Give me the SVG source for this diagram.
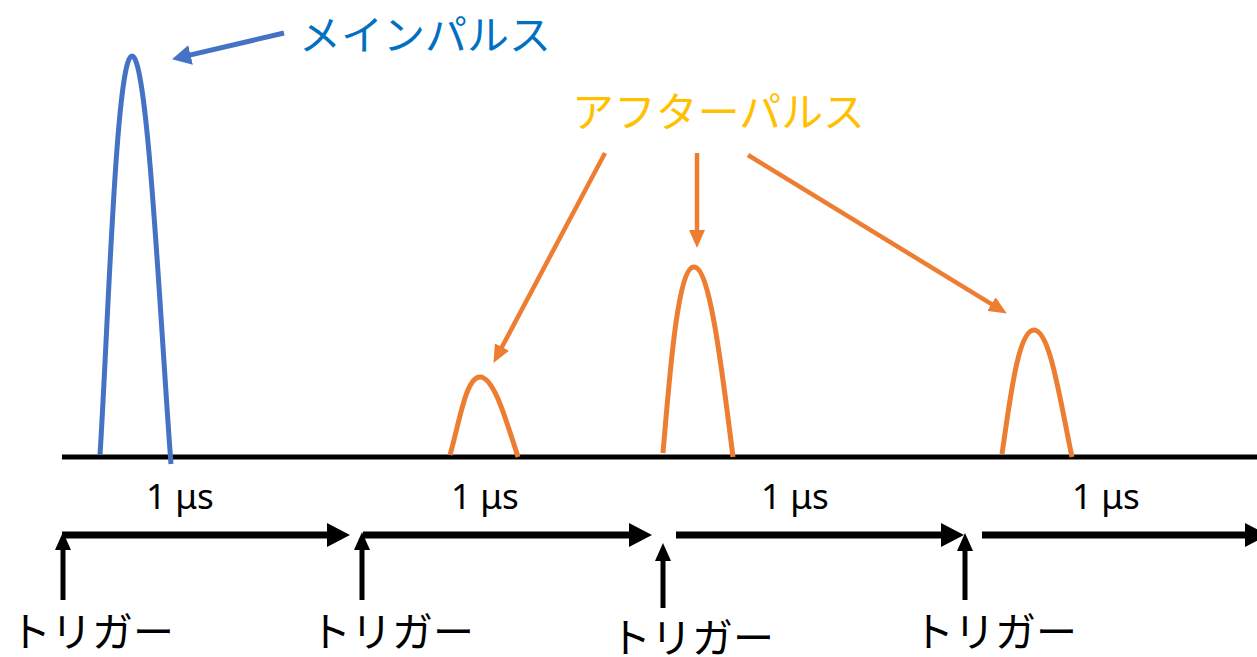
<svg xmlns="http://www.w3.org/2000/svg" width="1257" height="657" viewBox="0 0 1257 657">
<style>
.jp{font-family:"Noto Sans CJK JP","Noto Sans",sans-serif;font-size:41px}
.us{font-family:"Noto Sans","DejaVu Sans",sans-serif;font-size:35px;fill:#000;text-anchor:middle}
.pulse{fill:none;stroke-width:5;stroke-linecap:butt}
.blk{stroke:#000;fill:none}
</style>
<defs>
<marker id="mOr" markerUnits="userSpaceOnUse" markerWidth="18" markerHeight="16" viewBox="0 0 18 16" refX="2" refY="8" orient="auto"><path d="M0,0 L18,8 L0,16 z" fill="#ED7D31"/></marker>
<marker id="mBl" markerUnits="userSpaceOnUse" markerWidth="19" markerHeight="20" viewBox="0 0 19 20" refX="2" refY="10" orient="auto"><path d="M0,0 L19,10 L0,20 z" fill="#4472C4"/></marker>
<marker id="mBk" markerUnits="userSpaceOnUse" markerWidth="23" markerHeight="24" viewBox="0 0 23 24" refX="2" refY="12" orient="auto"><path d="M0,0 L23,12 L0,24 z" fill="#000"/></marker>
<marker id="mBkS" markerUnits="userSpaceOnUse" markerWidth="18" markerHeight="16" viewBox="0 0 18 16" refX="2" refY="8" orient="auto"><path d="M0,0 L18,8 L0,16 z" fill="#000"/></marker>
</defs>

<g id="baseline"><line x1="62" y1="457" x2="1257" y2="457" stroke="#000" stroke-width="5"/></g>

<g id="main-pulse"><path class="pulse" stroke="#4472C4" d="M100,455 C108,330 116,56 132,56 C148,56 160,320 171,464"/></g>
<g id="afterpulse-1"><path class="pulse" stroke="#ED7D31" d="M450,455 C460,420 466,377 480,377 C494,377 506,420 518,457"/></g>
<g id="afterpulse-2"><path class="pulse" stroke="#ED7D31" d="M663,453 C670,370 678,267 694,267 C710,267 722,370 733,457"/></g>
<g id="afterpulse-3"><path class="pulse" stroke="#ED7D31" d="M1002,454 C1010,400 1018,330 1034,330 C1050,330 1060,400 1072,457"/></g>

<g id="label-main"><text class="jp" x="299" y="50" fill="#0070C0" textLength="252" lengthAdjust="spacingAndGlyphs">メインパルス</text></g>
<g id="label-after"><text class="jp" x="572" y="127" fill="#FFC000" textLength="293" lengthAdjust="spacingAndGlyphs">アフターパルス</text></g>

<g id="us-labels">
<text class="us" x="180" y="509">1 μs</text>
<text class="us" x="485" y="509">1 μs</text>
<text class="us" x="795" y="509">1 μs</text>
<text class="us" x="1106" y="509">1 μs</text>
</g>

<g id="trigger-labels">
<text class="jp" x="92" y="647" text-anchor="middle" fill="#000">トリガー</text>
<text class="jp" x="392" y="647" text-anchor="middle" fill="#000">トリガー</text>
<text class="jp" x="692" y="653" text-anchor="middle" fill="#000">トリガー</text>
<text class="jp" x="995" y="647" text-anchor="middle" fill="#000">トリガー</text>
</g>

<g id="connectors">
<line x1="284" y1="33" x2="188.6" y2="55.4" stroke="#4472C4" stroke-width="5" marker-end="url(#mBl)"/>
<line x1="605" y1="153" x2="501" y2="348.8" stroke="#ED7D31" stroke-width="4.5" marker-end="url(#mOr)"/>
<line x1="697" y1="153" x2="697" y2="232" stroke="#ED7D31" stroke-width="4.5" marker-end="url(#mOr)"/>
<line x1="748" y1="155" x2="993.2" y2="305.2" stroke="#ED7D31" stroke-width="4.5" marker-end="url(#mOr)"/>

<line class="blk" x1="62" y1="535" x2="329" y2="535" stroke-width="7" marker-end="url(#mBk)"/>
<line class="blk" x1="363" y1="535" x2="631" y2="535" stroke-width="7" marker-end="url(#mBk)"/>
<line class="blk" x1="676" y1="535" x2="943" y2="535" stroke-width="7" marker-end="url(#mBk)"/>
<line class="blk" x1="982" y1="535" x2="1247" y2="535" stroke-width="7" marker-end="url(#mBk)"/>

<line class="blk" x1="63" y1="600" x2="63" y2="548" stroke-width="5" marker-end="url(#mBkS)"/>
<line class="blk" x1="362" y1="600" x2="362" y2="548" stroke-width="5" marker-end="url(#mBkS)"/>
<line class="blk" x1="663" y1="608" x2="663" y2="559" stroke-width="5" marker-end="url(#mBkS)"/>
<line class="blk" x1="965" y1="600" x2="965" y2="549" stroke-width="5" marker-end="url(#mBkS)"/>
</g>
</svg>
